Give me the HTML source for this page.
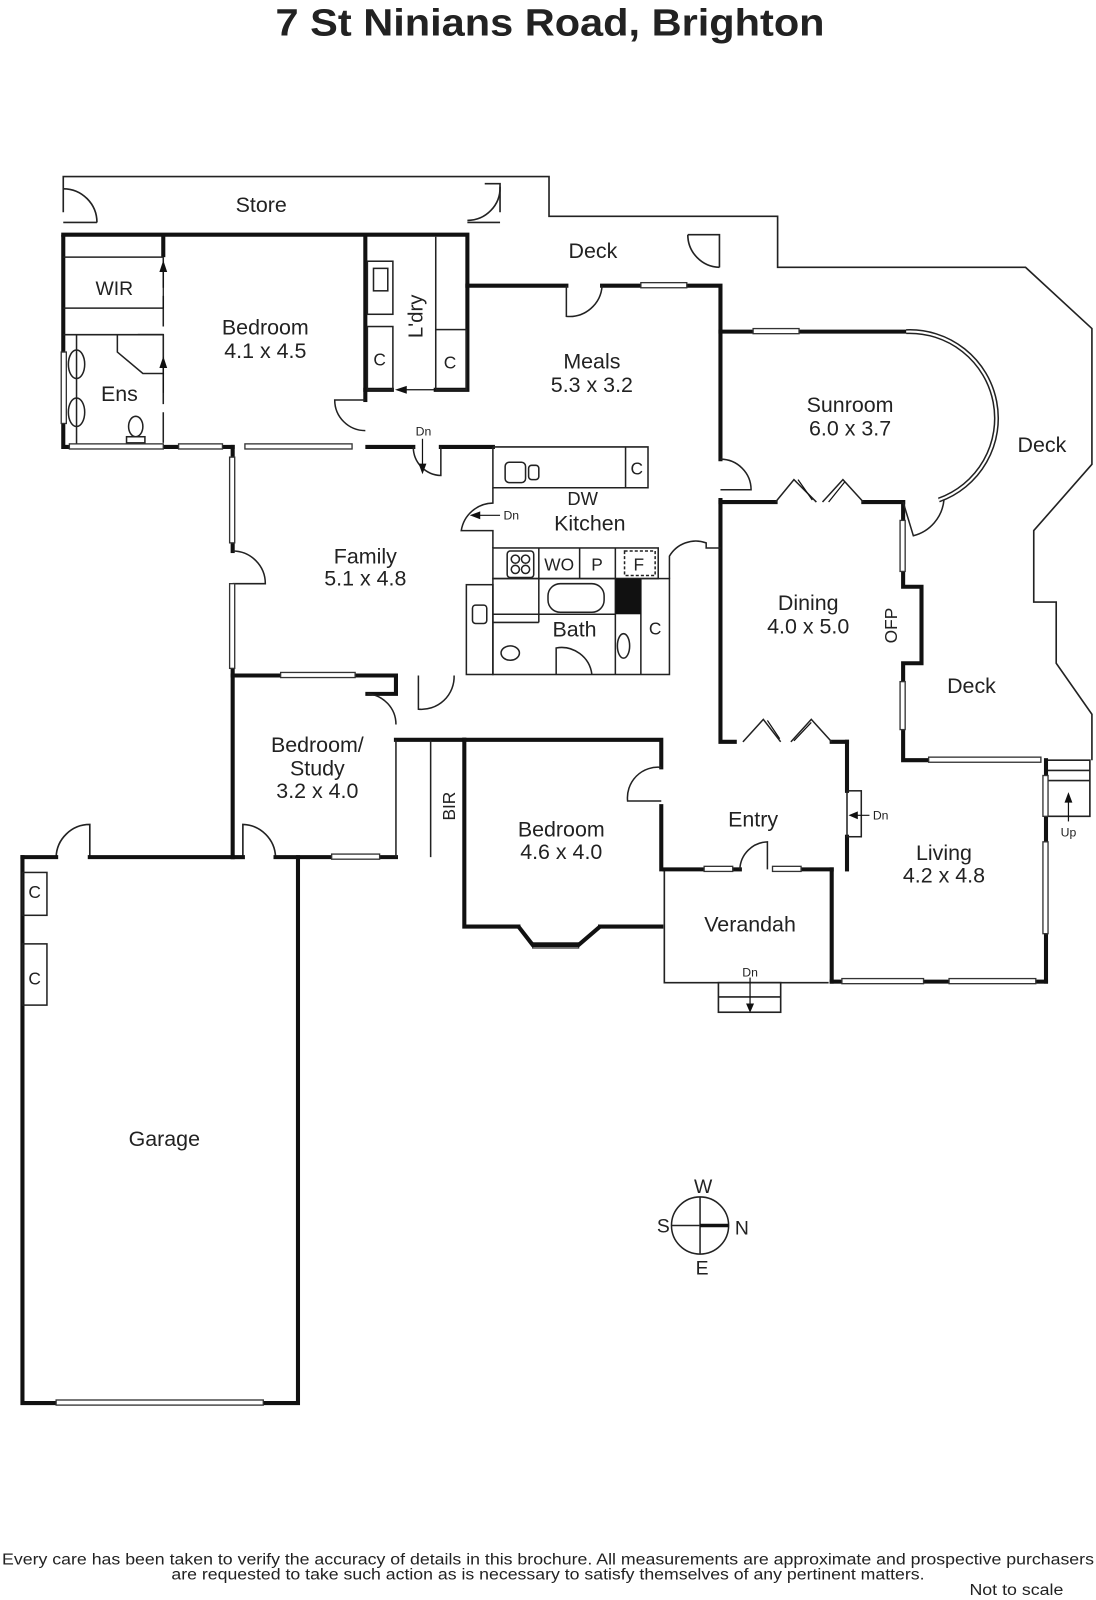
<!DOCTYPE html>
<html><head><meta charset="utf-8"><style>
html,body{margin:0;padding:0;background:#fff}
svg{display:block}
text{font-family:"Liberation Sans",sans-serif;fill:#222}
</style></head><body>
<svg width="1096" height="1600" viewBox="0 0 1074 1568" preserveAspectRatio="none" xmlns="http://www.w3.org/2000/svg">
<rect width="1074" height="1568" fill="#fff"/>
<text x="270" y="35" font-size="37" font-weight="bold" textLength="538" lengthAdjust="spacingAndGlyphs" fill="#111">7 St Ninians Road, Brighton</text>

<g fill="none" stroke="#222" stroke-width="1.6">
<polyline points="62,208 62,173 538,173 538,212 762,212 762,262 1005,262 1070,322 1070,455 1013,520 1013,590 1035,590 1035,650 1070,700 1070,745"/>
<polyline points="490,208 490,180 475,180"/>
<line x1="62" y1="218" x2="95" y2="218"/>
<path d="M62,185 A33,33 0 0 1 95,218"/>
<line x1="458" y1="218" x2="490" y2="218"/>
<path d="M490,183 A32,32 0 0 1 458,216"/>
<polyline points="705,262 705,230 674,230"/>
<path d="M674,230 A32,32 0 0 0 705,262"/>
<polyline points="1025,745 1068,745 1068,800 1025,800"/>
<line x1="1025" y1="755" x2="1068" y2="755"/><line x1="1025" y1="765" x2="1068" y2="765"/>
<polyline points="651,852 651,963 812,963"/>
<rect x="704" y="963" width="61" height="29"/><line x1="704" y1="977" x2="765" y2="977"/>
<path d="M55,840 A33,33 0 0 1 88,808 L88,840"/>
<path d="M238,840 L238,808 A33,33 0 0 1 270,840"/>
</g>

<g fill="none" stroke="#111" stroke-width="4" stroke-linecap="square">
<polyline points="62,230 458,230 458,382 427,382"/>
<polyline points="62,232 62,345"/><polyline points="62,415 62,438 68,438"/>
<line x1="160" y1="438" x2="175" y2="438"/><line x1="218" y1="438" x2="228" y2="438"/>
<line x1="160" y1="232" x2="160" y2="250"/>
<polyline points="358,232 358,382 384,382"/><line x1="358" y1="382" x2="358" y2="392"/>
<polyline points="458,280 555,280"/><polyline points="590,280 706,280 706,325 888,325"/>
<line x1="706" y1="325" x2="706" y2="450"/>
<polyline points="706,490 706,727 720,727"/><polyline points="815,727 830,727"/>
<line x1="706" y1="492" x2="760" y2="492"/><line x1="846" y1="492" x2="885" y2="492"/>
<polyline points="885,492 885,510"/><polyline points="885,560 885,575 903,575 903,650 885,650 885,668"/>
<polyline points="885,715 885,745 910,745"/>
<polyline points="1025,745 1025,760"/><line x1="1025" y1="800" x2="1025" y2="825"/><line x1="1025" y1="915" x2="1025" y2="962"/>
<polyline points="1025,962 1015,962"/><line x1="815" y1="962" x2="825" y2="962"/><line x1="905" y1="962" x2="930" y2="962"/>
<polyline points="815,852 815,962"/><polyline points="651,852 690,852"/><line x1="718" y1="852" x2="725" y2="852"/><line x1="785" y1="852" x2="815" y2="852"/>
<line x1="360" y1="438" x2="405" y2="438"/><line x1="432" y1="438" x2="483" y2="438"/>
<polyline points="228,438 228,448"/><line x1="228" y1="532" x2="228" y2="540"/>
<line x1="228" y1="655" x2="228" y2="840"/><polyline points="228,840 238,840"/><line x1="270" y1="840" x2="325" y2="840"/><line x1="372" y1="840" x2="388" y2="840"/>
<line x1="228" y1="662" x2="275" y2="662"/><line x1="348" y1="662" x2="388" y2="662"/>
<polyline points="388,662 388,680 360,680"/>
<line x1="388" y1="725" x2="455" y2="725"/>
<polyline points="455,725 648,725 648,752"/><polyline points="648,790 648,852"/>
<polyline points="455,725 455,908 508,908"/><polyline points="588,908 648,908"/>
<polyline points="22,840 55,840"/><line x1="88" y1="840" x2="228" y2="840"/>
<polyline points="22,840 22,1375 55,1375"/><polyline points="258,1375 292,1375 292,840 292,840"/>
<polyline points="830,727 830,775"/><line x1="830" y1="820" x2="830" y2="852"/>
</g>

<g fill="none" stroke="#222" stroke-width="1.5">
<line x1="62" y1="252" x2="160" y2="252"/><line x1="62" y1="302" x2="160" y2="302"/>
<line x1="62" y1="328" x2="160" y2="328"/>
<line x1="160" y1="252" x2="160" y2="438" stroke-dasharray="30,8"/>
<line x1="75" y1="328" x2="75" y2="438"/>
<ellipse cx="75" cy="357" rx="8" ry="14"/><ellipse cx="75" cy="404" rx="8" ry="14"/>
<polyline points="135,328 160,328 160,366 140,366 115,345 115,328"/>
<ellipse cx="133" cy="418" rx="7" ry="10"/><rect x="124" y="428" width="18" height="6"/>
<rect x="360" y="256" width="25" height="52"/><rect x="366" y="263" width="14" height="22"/>
<rect x="360" y="320" width="25" height="62"/>
<rect x="427" y="323" width="30" height="59"/><line x1="427" y1="232" x2="427" y2="323"/>
<path d="M358,392 L328,392 A30,30 0 0 0 358,422"/>
<path d="M555,280 L555,310 A32,32 0 0 0 590,280"/>
<path d="M405,438 A28,28 0 0 0 432,466 L432,438"/>
<polyline points="483,438 635,438 635,478 483,478 483,438"/>
<line x1="613" y1="438" x2="613" y2="478"/>
<rect x="495" y="453" width="20" height="20" rx="4"/><rect x="518" y="456" width="10" height="14" rx="3"/>
<path d="M483,478 L483,493 A32,32 0 0 0 452,520 L483,520 L483,537"/>
<rect x="483" y="537" width="162" height="30"/>
<line x1="528" y1="537" x2="528" y2="567"/><line x1="568" y1="537" x2="568" y2="567"/><line x1="603" y1="537" x2="603" y2="567"/>
<rect x="612" y="540" width="30" height="24" stroke-dasharray="3,2"/>
<rect x="497" y="540" width="26" height="26" rx="3"/>
<circle cx="505" cy="548" r="4"/><circle cx="515" cy="548" r="4"/><circle cx="505" cy="558" r="4"/><circle cx="515" cy="558" r="4"/>
<rect x="457" y="573" width="26" height="88"/><rect x="463" y="593" width="14" height="18" rx="3"/>
<rect x="483" y="567" width="173" height="94"/>
<line x1="528" y1="567" x2="528" y2="610"/><line x1="483" y1="610" x2="528" y2="610"/>
<line x1="603" y1="567" x2="603" y2="661"/><line x1="628" y1="567" x2="628" y2="661"/>
<rect x="537" y="572" width="55" height="28" rx="12"/>
<line x1="483" y1="602" x2="603" y2="602"/>
<ellipse cx="611" cy="633" rx="6" ry="12"/>
<ellipse cx="500" cy="640" rx="9" ry="7"/>
<path d="M545,661 L545,635 A30,30 0 0 1 580,661"/>
<path d="M656,567 L656,545 A30,30 0 0 1 692,532 L692,537 L706,537"/>
<path d="M706,450 A30,30 0 0 1 736,480 L706,480"/>
<path d="M410,662 L410,695 A32,32 0 0 0 445,662"/>
<path d="M360,680 A30,30 0 0 1 388,710"/>
<line x1="388" y1="725" x2="388" y2="840"/><line x1="422" y1="725" x2="422" y2="840"/>
<path d="M648,752 A30,30 0 0 0 615,785 L648,785"/>
<path d="M725,852 A28,28 0 0 1 752,825 L752,852"/>
<path d="M228,540 A32,32 0 0 1 260,572 L228,572"/>
<polyline points="760,492 778,470 800,492"/><polyline points="806,492 826,470 846,492"/>
<polyline points="728,727 748,705 765,727"/><polyline points="775,727 795,705 815,727"/>
<path d="M888,325 A85,85 0 0 1 920,490" stroke-width="5"/>
<path d="M888,325 A85,85 0 0 1 920,490" stroke="#fff" stroke-width="2"/>
<path d="M885,492 L895,525 A40,40 0 0 0 925,490"/>
<rect x="830" y="775" width="14" height="45"/>
<rect x="22" y="855" width="24" height="42"/><rect x="22" y="925" width="24" height="60"/>
</g>

<g fill="#fff" stroke="#333" stroke-width="1.3">
<rect x="60" y="345" width="5" height="70"/>
<rect x="68" y="435" width="92" height="5"/><rect x="175" y="435" width="43" height="5"/>
<rect x="240" y="435" width="105" height="5"/>
<rect x="225" y="448" width="5" height="84"/><rect x="225" y="572" width="5" height="83"/>
<rect x="628" y="277" width="45" height="5"/><rect x="738" y="322" width="45" height="5"/>
<rect x="882" y="510" width="5" height="50"/><rect x="882" y="668" width="5" height="47"/>
<rect x="910" y="742" width="110" height="5"/>
<rect x="1022" y="760" width="5" height="40"/><rect x="1022" y="825" width="5" height="90"/>
<rect x="825" y="959" width="80" height="5"/><rect x="930" y="959" width="85" height="5"/>
<rect x="690" y="849" width="28" height="5"/><rect x="757" y="849" width="28" height="5"/>
<rect x="275" y="659" width="73" height="5"/><rect x="325" y="837" width="47" height="5"/>
<rect x="522" y="924" width="45" height="5"/>
<polyline points="508,908 522,926 567,926 588,908" fill="none" stroke="#111" stroke-width="4"/>
<rect x="55" y="1372" width="203" height="5"/>
</g>
<rect x="603" y="567" width="25" height="35" fill="#111"/>

<g stroke="#111" stroke-width="1.2" fill="#111">
<line x1="160" y1="302" x2="160" y2="262"/><polygon points="157,266 163,266 160,257"/>
<line x1="160" y1="385" x2="160" y2="356"/><polygon points="157,360 163,360 160,351"/>
<line x1="427" y1="382" x2="395" y2="382"/><polygon points="398,379 398,385 389,382"/>
<line x1="414" y1="430" x2="414" y2="460"/><polygon points="411,455 417,455 414,463"/>
<line x1="490" y1="505" x2="466" y2="505"/><polygon points="470,502 470,508 462,505"/>
<line x1="852" y1="799" x2="836" y2="799"/><polygon points="840,796 840,802 833,799"/>
<line x1="1047" y1="805" x2="1047" y2="782"/><polygon points="1044,786 1050,786 1047,778"/>
<line x1="735" y1="958" x2="735" y2="988"/><polygon points="732,984 738,984 735,991"/>
<line x1="782" y1="470" x2="796" y2="490"/><line x1="828" y1="472" x2="812" y2="492"/>
<line x1="752" y1="706" x2="764" y2="724"/><line x1="795" y1="708" x2="778" y2="726"/>
</g>

<g font-size="21" text-anchor="middle">
<text x="256" y="208">Store</text>
<text x="581" y="253">Deck</text>
<text x="112" y="289" font-size="19">WIR</text>
<text x="260" y="328">Bedroom</text><text x="260" y="351">4.1 x 4.5</text>
<text x="117" y="393">Ens</text>
<text x="580" y="361">Meals</text><text x="580" y="384">5.3 x 3.2</text>
<text x="833" y="404">Sunroom</text><text x="833" y="427">6.0 x 3.7</text>
<text x="1021" y="443">Deck</text>
<text x="358" y="552">Family</text><text x="358" y="574">5.1 x 4.8</text>
<text x="571" y="495" font-size="18">DW</text>
<text x="578" y="520">Kitchen</text>
<text x="563" y="624">Bath</text>
<text x="792" y="598">Dining</text><text x="792" y="621">4.0 x 5.0</text>
<text x="952" y="679">Deck</text>
<text x="311" y="737">Bedroom/</text><text x="311" y="760">Study</text><text x="311" y="782">3.2 x 4.0</text>
<text x="550" y="820">Bedroom</text><text x="550" y="842">4.6 x 4.0</text>
<text x="738" y="810">Entry</text>
<text x="925" y="843">Living</text><text x="925" y="865">4.2 x 4.8</text>
<text x="735" y="913">Verandah</text>
<text x="161" y="1123">Garage</text>
</g>
<g font-size="17" text-anchor="middle">
<text x="372" y="358">C</text><text x="441" y="361">C</text><text x="624" y="465">C</text>
<text x="548" y="559">WO</text><text x="585" y="559">P</text><text x="626" y="559">F</text>
<text x="642" y="622">C</text>
<text x="34" y="880">C</text><text x="34" y="965">C</text>
<text transform="translate(414,310) rotate(-90)" font-size="20">L'dry</text>
<text transform="translate(446,790) rotate(-90)" font-size="17">BIR</text>
<text transform="translate(879,613) rotate(-90)" font-size="17">OFP</text>
</g>
<g font-size="12" text-anchor="middle">
<text x="415" y="427">Dn</text><text x="501" y="509">Dn</text><text x="863" y="803">Dn</text>
<text x="1047" y="820">Up</text><text x="735" y="957">Dn</text>
</g>

<g stroke="#222" fill="none" stroke-width="1.5">
<circle cx="686" cy="1201" r="28"/>
<line x1="658" y1="1201" x2="686" y2="1201"/><line x1="686" y1="1173" x2="686" y2="1229"/>
<line x1="686" y1="1201" x2="714" y2="1201" stroke-width="3.5" stroke="#111"/>
</g>
<g font-size="19" text-anchor="middle">
<text x="689" y="1169">W</text><text x="650" y="1208">S</text><text x="727" y="1210">N</text><text x="688" y="1249">E</text>
</g>

<g font-size="15">
<text x="2" y="1533" textLength="1070" lengthAdjust="spacingAndGlyphs">Every care has been taken to verify the accuracy of details in this brochure.  All measurements are approximate and prospective purchasers</text>
<text x="168" y="1548" textLength="738" lengthAdjust="spacingAndGlyphs">are requested to take such action as is necessary to satisfy themselves of any pertinent matters.</text>
<text x="950" y="1563" textLength="92" lengthAdjust="spacingAndGlyphs">Not to scale</text>
</g>
</svg>
</body></html>
